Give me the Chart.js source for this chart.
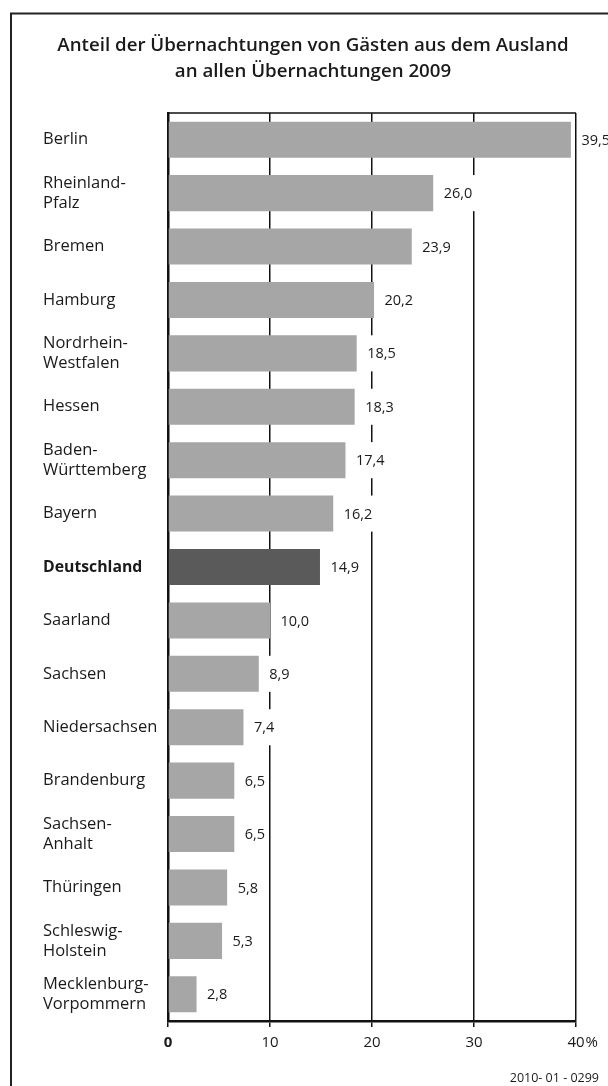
<!DOCTYPE html>
<html lang="de">
<head>
<meta charset="utf-8">
<title>Übernachtungen von Gästen aus dem Ausland 2009</title>
<script src="https://cdn.jsdelivr.net/npm/chart.js@4/dist/chart.umd.min.js"></script>
<style>
  html, body { margin: 0; padding: 0; background: #fff; }
  canvas { display: block; }
</style>
</head>
<body>
<canvas id="gaesteChart" width="608" height="1086"></canvas>
<script>
// -----------------------------
// Daten
// -----------------------------
const laender = [
  "Berlin", ["Rheinland-", "Pfalz"], "Bremen", "Hamburg", ["Nordrhein-", "Westfalen"],
  "Hessen", ["Baden-", "Württemberg"], "Bayern", "Deutschland", "Saarland", "Sachsen",
  "Niedersachsen", "Brandenburg", ["Sachsen-", "Anhalt"], "Thüringen",
  ["Schleswig-", "Holstein"], ["Mecklenburg-", "Vorpommern"]
];
const anteil = [39.5, 26.0, 23.9, 20.2, 18.5, 18.3, 17.4, 16.2, 14.9, 10.0, 8.9, 7.4, 6.5, 6.5, 5.8, 5.3, 2.8];
const xTicks = [0, 10, 20, 30, 40];
const titel = ["Anteil der Übernachtungen von Gästen aus dem Ausland", "an allen Übernachtungen 2009"];
const quelle = "2010- 01 - 0299";
const gesamt = "Deutschland";

const FONT = "'Open Sans', 'DejaVu Sans', sans-serif";
const GRAU = "#a6a6a6";
const DUNKEL = "#5a5a5a";
const TEXT = "#1a1a1a";

const istGesamt = i => laender[i] === gesamt;
const deZahl = v => v.toFixed(1).replace(".", ",");

// -----------------------------
// Rahmen, Titel, Quelle
// -----------------------------
const rahmenPlugin = {
  id: "rahmen",
  beforeDraw(chart) {
    const ctx = chart.ctx;
    ctx.save();
    ctx.fillStyle = "#fff";
    ctx.fillRect(0, 0, chart.width, chart.height);
    ctx.strokeStyle = "#222";
    ctx.lineWidth = 2;
    ctx.strokeRect(11, 13.5, 700, 1200);

    ctx.fillStyle = TEXT;
    ctx.textAlign = "center";
    ctx.textBaseline = "middle";
    ctx.font = "600 18.7px " + FONT;
    ctx.fillText(titel[0], 313, 46);
    ctx.fillText(titel[1], 313, 72);

    ctx.textAlign = "right";
    ctx.font = "12.5px " + FONT;
    ctx.fillText(quelle, 599, 1078);
    ctx.restore();
  },
  beforeDatasetsDraw(chart) {
    // obere Begrenzung der Zeichenfläche
    const { ctx, chartArea } = chart;
    ctx.save();
    ctx.strokeStyle = "#111";
    ctx.lineWidth = 1.5;
    ctx.beginPath();
    ctx.moveTo(chartArea.left, chartArea.top);
    ctx.lineTo(chartArea.right, chartArea.top);
    ctx.stroke();
    ctx.restore();
  },
  afterDatasetsDraw(chart) {
    // Werte rechts neben den Balken, auf weißem Grund
    const ctx = chart.ctx;
    const meta = chart.getDatasetMeta(0);
    ctx.save();
    ctx.font = "14.5px " + FONT;
    ctx.textBaseline = "middle";
    ctx.textAlign = "left";
    meta.data.forEach((bar, i) => {
      const txt = deZahl(anteil[i]);
      const tx = bar.x + 10.5;
      const w = ctx.measureText(txt).width;
      ctx.fillStyle = "#fff";
      ctx.fillRect(tx - 4, bar.y - bar.height / 2, w + 7, bar.height);
      ctx.fillStyle = TEXT;
      ctx.fillText(txt, tx, bar.y + 1);
    });
    ctx.restore();
  },
  afterDraw(chart) {
    // Prozentzeichen hinter dem letzten Skalenwert
    const ctx = chart.ctx;
    const xs = chart.scales.x;
    const letzter = xTicks[xTicks.length - 1];
    ctx.save();
    ctx.font = "15px " + FONT;
    const w = ctx.measureText(String(letzter)).width;
    ctx.fillStyle = TEXT;
    ctx.textAlign = "left";
    ctx.textBaseline = "middle";
    ctx.fillText("%", xs.getPixelForValue(letzter) + w / 2 + 1, chart.chartArea.bottom + 22);
    ctx.restore();
  }
};

// -----------------------------
// Chart.js Balkendiagramm
// -----------------------------
new Chart(document.getElementById("gaesteChart"), {
  type: "bar",
  data: {
    labels: laender,
    datasets: [{
      data: anteil,
      backgroundColor: ctx => istGesamt(ctx.dataIndex) ? DUNKEL : GRAU,
      borderWidth: 0,
      categoryPercentage: 1,
      barPercentage: 0.675
    }]
  },
  options: {
    indexAxis: "y",
    responsive: false,
    animation: false,
    layout: { padding: { top: 113, left: 43, right: 32, bottom: 0 } },
    plugins: {
      legend: { display: false },
      tooltip: { enabled: false }
    },
    scales: {
      x: {
        min: xTicks[0],
        max: xTicks[xTicks.length - 1],
        afterBuildTicks: scale => { scale.ticks = xTicks.map(v => ({ value: v })); },
        afterFit: scale => { scale.height = 65; },
        grid: {
          color: "#111",
          lineWidth: 1.5,
          drawTicks: true,
          tickLength: 6,
          tickColor: "#111",
          tickWidth: 1.5
        },
        border: { display: true, color: "#111", width: 2.5 },
        ticks: {
          padding: 7,
          color: TEXT,
          callback: v => String(v),
          font: ctx => ({
            family: FONT,
            size: 15,
            weight: ctx.tick && ctx.tick.value === 0 ? "bold" : "normal"
          })
        }
      },
      y: {
        afterFit: scale => { scale.width = 125; },
        grid: { display: false },
        border: { display: true, color: "#111", width: 2.5 },
        ticks: {
          crossAlign: "far",
          color: TEXT,
          autoSkip: false,
          font: ctx => ({
            family: FONT,
            size: istGesamt(ctx.index) ? 15.8 : 16.5,
            lineHeight: 20 / 16.5,
            weight: istGesamt(ctx.index) ? "bold" : "normal"
          })
        }
      }
    }
  },
  plugins: [rahmenPlugin]
});
</script>
</body>
</html>
